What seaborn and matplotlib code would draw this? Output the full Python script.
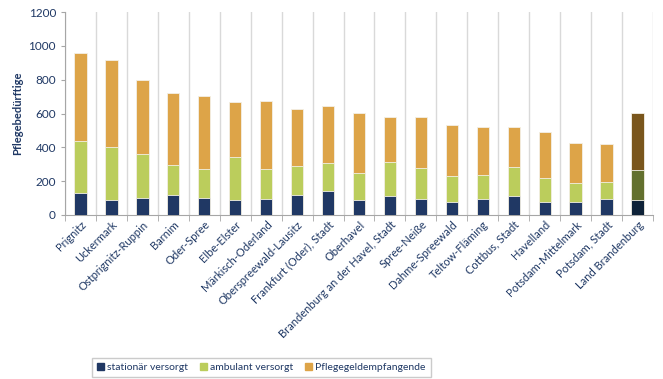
import numpy as np
import pandas as pd
import seaborn as sns
import matplotlib.pyplot as plt
from matplotlib.patches import Patch

# Pflegebedürftige je 10.000 Einwohner
regions = [
    'Prignitz', 'Uckermark', 'Ostprignitz-Ruppin', 'Barnim', 'Oder-Spree',
    'Elbe-Elster', 'Märkisch-Oderland', 'Oberspreewald-Lausitz',
    'Frankfurt (Oder), Stadt', 'Oberhavel', 'Brandenburg an der Havel, Stadt',
    'Spree-Neiße', 'Dahme-Spreewald', 'Teltow-Fläming', 'Cottbus, Stadt',
    'Havelland', 'Potsdam-Mittelmark', 'Potsdam, Stadt', 'Land Brandenburg',
]
stationaer = [132, 89, 102, 118, 98, 87, 92, 116, 142, 91, 114, 92, 79, 94, 110, 75, 79, 92, 87]
ambulant = [305, 312, 258, 177, 174, 255, 182, 173, 165, 157, 197, 184, 151, 142, 173, 141, 110, 103, 177]
pflegegeld = [521, 516, 437, 425, 433, 325, 399, 337, 337, 354, 268, 301, 301, 284, 237, 274, 236, 222, 338]

df = pd.DataFrame({'region': regions, 'stationaer': stationaer,
                   'ambulant': ambulant, 'pflegegeld': pflegegeld})
df['lvl2'] = df['stationaer'] + df['ambulant']
df['lvl3'] = df['lvl2'] + df['pflegegeld']

navy, green, orange = '#203864', '#BBCD5C', '#DDA448'
navy_d, green_d, orange_d = '#0E2238', '#63702E', '#7A561C'
text_col = '#1F3864'

plt.rcParams['font.family'] = ['Lato', 'DejaVu Sans']
fig, ax = plt.subplots(figsize=(6.63, 3.79), dpi=100)
fig.subplots_adjust(left=0.098, right=0.985, top=0.968, bottom=0.433)

n = len(regions)
layers = [('lvl3', orange, orange_d), ('lvl2', green, green_d), ('stationaer', navy, navy_d)]
for col, c, cd in layers:
    sns.barplot(data=df, x='region', y=col, hue='region',
                palette=[c] * (n - 1) + [cd], legend=False, saturation=1,
                width=0.4, edgecolor='#F3F0E6', linewidth=0.6, ax=ax, zorder=3)

ax.set_xlim(-0.5, n - 0.5)
ax.set_ylim(0, 1200)
ax.set_yticks(range(0, 1201, 200))
ax.set_ylabel('Pflegebedürftige', fontsize=8, fontweight='bold', color=text_col)
ax.set_xlabel('')
ax.tick_params(axis='y', labelsize=8.5, colors=text_col, length=3, color='#A6A6A6')
ax.set_xticks(range(n))
ax.set_xticklabels(regions, rotation=45, ha='right', rotation_mode='anchor',
                   fontsize=8, color=text_col)
ax.tick_params(axis='x', length=0, pad=3)
ax.set_xticks(np.arange(-0.5, n), minor=True)
ax.tick_params(axis='x', which='minor', length=4, color='#A6A6A6')
ax.grid(axis='x', which='minor', color='#D9D9D9', linewidth=1)
ax.grid(axis='y', visible=False)
for s in ['top', 'right']:
    ax.spines[s].set_visible(False)
for s in ['left', 'bottom']:
    ax.spines[s].set_color('#A6A6A6')

handles = [Patch(color=navy, label='stationär versorgt'),
           Patch(color=green, label='ambulant versorgt'),
           Patch(color=orange, label='Pflegegeldempfangende')]
leg = fig.legend(handles=handles, loc='center', bbox_to_anchor=(0.394, 0.03),
                 ncol=3, fontsize=7.5, frameon=True, fancybox=False,
                 handlelength=0.7, handleheight=0.7, handletextpad=0.3,
                 columnspacing=1.1, borderpad=0.5, borderaxespad=0)
leg.get_frame().set_edgecolor('#BFBFBF')
for t in leg.get_texts():
    t.set_color(text_col)

plt.savefig('out.png', dpi=100)
